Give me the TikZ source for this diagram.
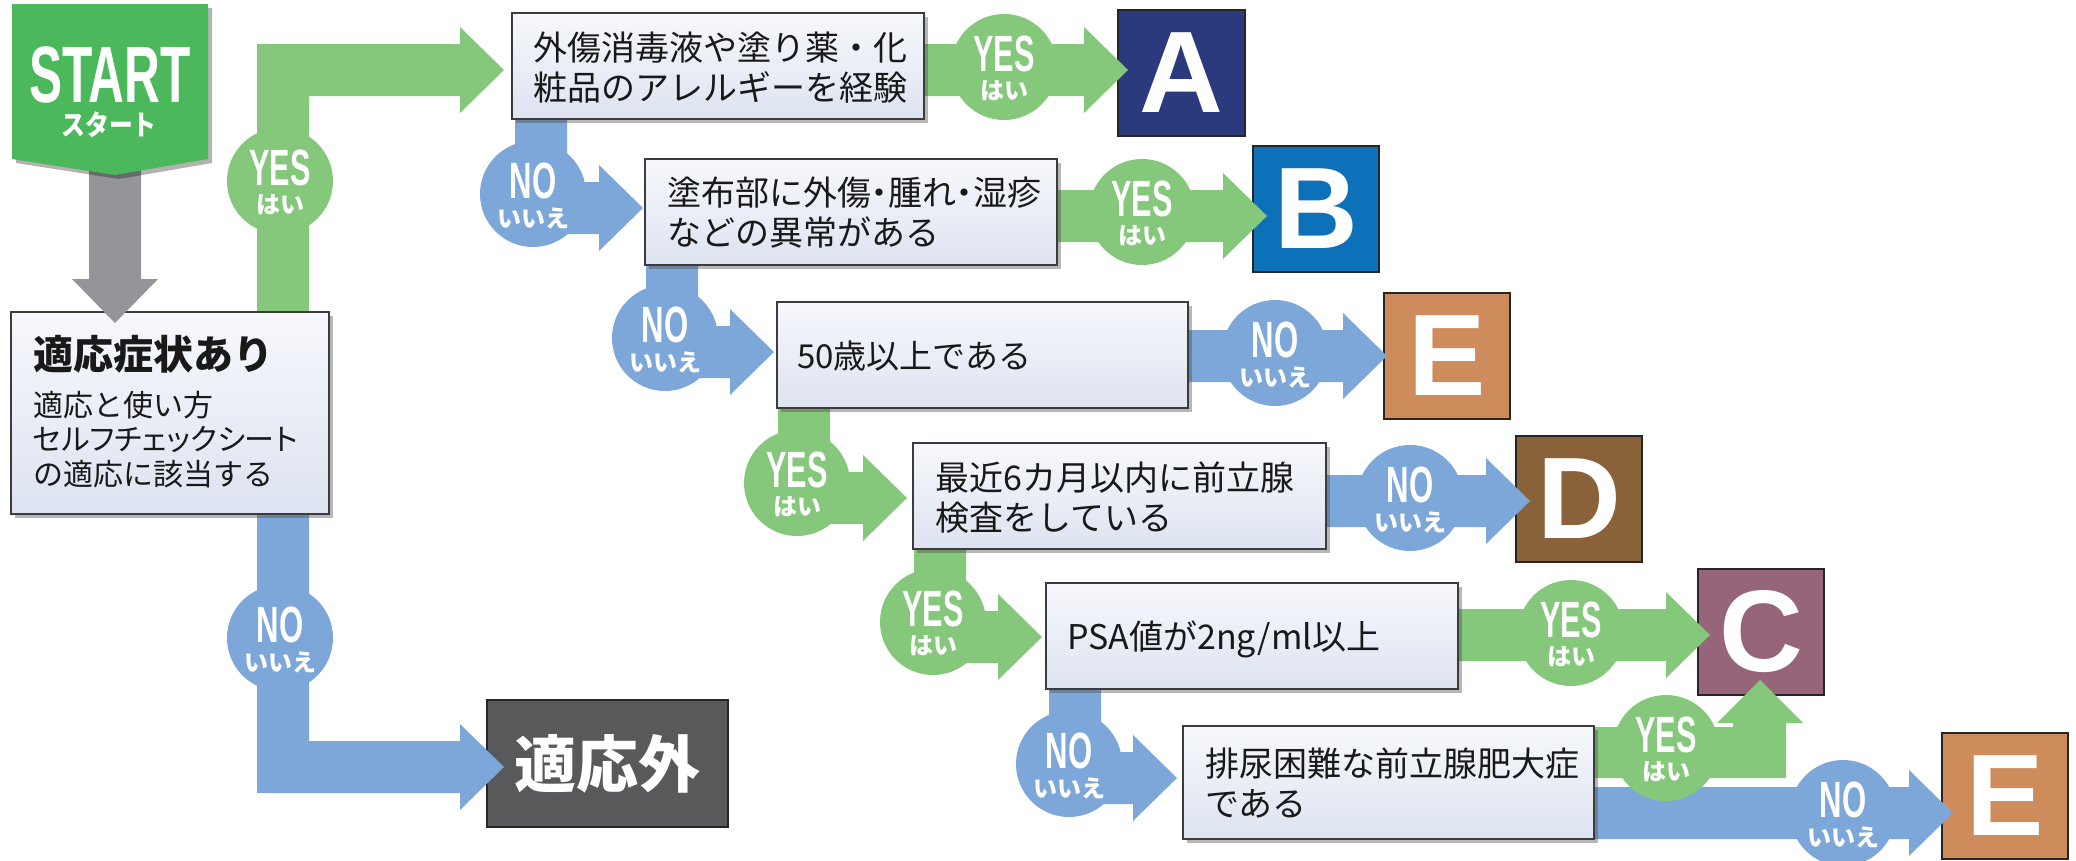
\documentclass[tikz,border=0pt]{standalone}
\usepackage{fontspec}
\usepackage{graphicx}
\setmainfont{Liberation Sans}
\newfontfamily\jp{Noto Sans CJK JP}
\newfontfamily\jpp{Noto Sans CJK JP}[RawFeature=+palt]
\usetikzlibrary{calc,shadows}
\pgfdeclarelayer{bgwhite}
\pgfdeclarelayer{back}
\pgfdeclarelayer{mid}
\pgfdeclarelayer{front}
\pgfsetlayers{bgwhite,back,mid,main,front}

\definecolor{yesgreen}{HTML}{85C77B}
\definecolor{noblue}{HTML}{7DA7D8}
\definecolor{startgreen}{HTML}{4BB85B}
\definecolor{grayA}{HTML}{939598}
\definecolor{Acol}{HTML}{2B3A7D}
\definecolor{Bcol}{HTML}{0D71B9}
\definecolor{Ecol}{HTML}{CE8C5D}
\definecolor{Dcol}{HTML}{8A6239}
\definecolor{Ccol}{HTML}{976579}
\definecolor{ngcol}{HTML}{58595B}
\definecolor{qtop}{HTML}{F6F8FC}
\definecolor{qbot}{HTML}{DDE3F0}
\definecolor{qborder}{HTML}{3C3C3C}
\definecolor{oborder}{HTML}{262626}

% horizontal block arrow: start point (x used), tip point
\newcommand\blkH[3]{\fill[#1] let \p1=#2, \p2=#3 in
  (\x1,\y2+26pt) -- (\x2-44pt,\y2+26pt) -- (\x2-44pt,\y2+43pt) -- (\p2) --
  (\x2-44pt,\y2-43pt) -- (\x2-44pt,\y2-26pt) -- (\x1,\y2-26pt) -- cycle;}
% down then right: shaft top-left point, tip point
\newcommand\blkD[3]{\fill[#1] let \p1=#2, \p2=#3 in
  (\x1,\y1) -- (\x1+52pt,\y1) -- (\x1+52pt,\y2+26pt) -- (\x2-44pt,\y2+26pt) --
  (\x2-44pt,\y2+43pt) -- (\p2) -- (\x2-44pt,\y2-43pt) -- (\x2-44pt,\y2-26pt) --
  (\x1,\y2-26pt) -- cycle;}
% up then right: shaft bottom-left point, tip point
\newcommand\blkU[3]{\fill[#1] let \p1=#2, \p2=#3 in
  (\x1,\y1) -- (\x1,\y2+26pt) -- (\x2-44pt,\y2+26pt) -- (\x2-44pt,\y2+43pt) --
  (\p2) -- (\x2-44pt,\y2-43pt) -- (\x2-44pt,\y2-26pt) -- (\x1+52pt,\y2-26pt) --
  (\x1+52pt,\y1) -- cycle;}
% vertical down: start point (y used), tip point
\newcommand\blkV[3]{\fill[#1] let \p1=#2, \p2=#3 in
  (\x2-26pt,\y1) -- (\x2+26pt,\y1) -- (\x2+26pt,\y2+44pt) -- (\x2+43pt,\y2+44pt) --
  (\p2) -- (\x2-43pt,\y2+44pt) -- (\x2-26pt,\y2+44pt) -- cycle;}

\newcommand\yesC[2]{%
  \node[ycirc] (#1) at #2 {};
  \node[labtxt] (#1m) at ($(#1.center)+(0,4)$) {\scalebox{0.6}[1]{\fontsize{51}{51}\selectfont\bfseries YES}};
  \node[labtxt] (#1k) at ($(#1.center)+(0,32)$) {\jp\bfseries\fontsize{24}{24}\selectfont はい};}
\newcommand\noC[2]{%
  \node[ncirc] (#1) at #2 {};
  \node[labtxt] (#1m) at ($(#1.center)+(0,4)$) {\scalebox{0.61}[1]{\fontsize{51}{51}\selectfont\bfseries NO}};
  \node[labtxt] (#1k) at ($(#1.center)+(0,33)$) {\jp\bfseries\fontsize{24}{24}\selectfont いいえ};}

\begin{document}
\begin{tikzpicture}[x=1pt,y=-1pt,
  qbox/.style={draw=qborder, line width=1.5pt, top color=qtop, bottom color=qbot,
    inner sep=0pt, outer sep=0pt, anchor=north west,
    minimum width=412pt, minimum height=106pt,
    drop shadow={shadow xshift=4pt,shadow yshift=-4pt,opacity=0.4,fill=black!70}},
  qtxt/.style={anchor=base west, inner sep=0pt, text=black!90, font=\jp\fontsize{34}{34}\selectfont},
  obox/.style={draw=oborder, line width=2.5pt, inner sep=0pt, outer sep=0pt, anchor=north west,
    minimum width=126pt, minimum height=126pt, text=white,
    font=\fontsize{116}{116}\selectfont\bfseries},
  ycirc/.style={circle, fill=yesgreen, minimum size=106pt, inner sep=0pt},
  ncirc/.style={circle, fill=noblue, minimum size=106pt, inner sep=0pt},
  labtxt/.style={anchor=base, inner sep=0pt, text=white}]

\begin{pgfonlayer}{bgwhite}
\fill[white] (0,0) rectangle (2076,860);
\end{pgfonlayer}
\useasboundingbox (0,0) rectangle (2076,860);

% ---------- decision boxes (main layer) ----------
\node[qbox, minimum width=318pt, minimum height=202pt] (q0) at (11,312) {};
\node[qbox] (q1) at (512,13) {};
\node[qbox] (q2) at (645,159) {};
\node[qbox, minimum width=411pt] (q3) at (777,302) {};
\node[qbox, minimum width=413pt] (q4) at (913,443) {};
\node[qbox] (q5) at (1046,583) {};
\node[qbox, minimum width=411pt, minimum height=113pt] (q6) at (1183,726) {};

\node[qtxt, font=\jp\bfseries\fontsize{40}{40}\selectfont] (q0a) at (33,369) {適応症状あり};
\node[qtxt, font=\jp\fontsize{30}{30}\selectfont] (q0b) at (33,416) {適応と使い方};
\node[qtxt, font=\jpp\fontsize{30}{30}\selectfont] (q0c) at (33,450) {セルフチェックシート};
\node[qtxt, font=\jp\fontsize{30}{30}\selectfont] (q0d) at (33,485) {の適応に該当する};
\node[qtxt] (q1a) at (533,60) {外傷消毒液や塗り薬・化};
\node[qtxt] (q1b) at (533,100) {粧品のアレルギーを経験};
\node[qtxt] (q2a) at (667,205) {塗布部に外傷\kern-.25em・\kern-.25em腫れ\kern-.25em・\kern-.25em湿疹};
\node[qtxt] (q2b) at (667,245) {などの異常がある};
\node[qtxt, font=\jp\fontsize{33}{33}\selectfont] (q3a) at (797,368) {50歳以上である};
\node[qtxt] (q4a) at (935,490) {最近6カ月以内に前立腺};
\node[qtxt] (q4b) at (935,530) {検査をしている};
\node[qtxt] (q5a) at (1067,649) {PSA値が2ng/ml以上};
\node[qtxt] (q6a) at (1205,776) {排尿困難な前立腺肥大症};
\node[qtxt] (q6b) at (1205,816) {である};

% ---------- outcome boxes (back layer) ----------
\begin{pgfonlayer}{back}
\node[obox, fill=Acol, minimum width=127pt] (A) at (1118,10) {A};
\node[obox, fill=Bcol] (B) at (1253,146) {B};
\node[obox, fill=Ecol] (E1) at (1384,293) {E};
\node[obox, fill=Dcol] (D) at (1516,436) {D};
\node[obox, fill=Ccol] (C) at (1698,569) {C};
\node[obox, fill=Ecol] (E2) at (1942,733) {E};
\node[obox, fill=ngcol, minimum width=241pt, minimum height=127pt,
  font=\jp\bfseries\fontsize{62}{62}\selectfont] (ng) at (487,700) {適応外};
\end{pgfonlayer}

% ---------- arrow tips ----------
\coordinate (tY0) at (504,70);
\coordinate (tN0) at (504,767);
\coordinate (tA) at (1128,70);
\coordinate (t2) at (643,208);
\coordinate (tB) at (1267,216);
\coordinate (t3) at (774,352);
\coordinate (tE) at (1387,356);
\coordinate (t4) at (907,498);
\coordinate (tD) at (1530,501);
\coordinate (t5) at (1042,637);
\coordinate (tC) at (1710,635);
\coordinate (t6) at (1177,778);
\coordinate (tC2) at (1760,680);
\coordinate (tE2) at (1953,813);

% ---------- block arrows and labels (mid layer) ----------
\begin{pgfonlayer}{mid}
\blkU{yesgreen}{($(q0.north west)+(246,0)$)}{(tY0)}
\blkD{noblue}{($(q0.south west)+(246,0)$)}{(tN0)}
\blkH{yesgreen}{(q1.east)}{(tA)}
\blkD{noblue}{($(q1.south west)+(3,0)$)}{(t2)}
\blkH{yesgreen}{(q2.east)}{(tB)}
\blkD{noblue}{($(q2.south west)+(1,0)$)}{(t3)}
\blkH{noblue}{(q3.east)}{(tE)}
\blkD{yesgreen}{($(q3.south west)+(1,0)$)}{(t4)}
\blkH{noblue}{(q4.east)}{(tD)}
\blkD{yesgreen}{($(q4.south west)+(1,0)$)}{(t5)}
\blkH{yesgreen}{(q5.east)}{(tC)}
\blkD{noblue}{($(q5.south west)+(3,0)$)}{(t6)}
\fill[yesgreen] let \p1=(q6.east), \p2=(tC2) in
  (\x1,\y2-47pt) -- (\x2-27pt,\y2-47pt) -- (\x2-27pt,\y2-43pt) -- (\x2-43pt,\y2-43pt) --
  (\p2) -- (\x2+43pt,\y2-43pt) -- (\x2+26pt,\y2-43pt) -- (\x2+26pt,\y2-98pt) --
  (\x1,\y2-98pt) -- cycle;
\blkH{noblue}{(q6.east)}{(tE2)}

\yesC{c0y}{(280,181)}
\noC{c0n}{(280,638)}
\yesC{c1y}{(1004,67)}
\noC{c1n}{(533,194)}
\yesC{c2y}{(1142,212)}
\noC{c2n}{(665,338)}
\noC{c3n}{(1275,353)}
\yesC{c3y}{(797,483)}
\noC{c4n}{(1410,498)}
\yesC{c4y}{(933,622)}
\yesC{c5y}{(1571,633)}
\noC{c5n}{(1069,764)}
\yesC{c6y}{(1666,748)}
\noC{c6n}{(1843,813)}
\end{pgfonlayer}

% ---------- START (front layer) ----------
\begin{pgfonlayer}{front}
\coordinate (sBot) at (115,165);
\coordinate (gTip) at (115,323);
\blkV{grayA}{(sBot)}{(gTip)}
\fill[black, opacity=0.3] (16,8) -- (212,8) -- (212,163) -- (119,179) -- (16,163) -- cycle;
\fill[startgreen] (12,4) -- (208,4) -- (208,159) -- (115,175) -- (12,159) -- cycle;
\node[labtxt] (st1) at (110,102) {\scalebox{0.62}[1]{\fontsize{80}{80}\selectfont\bfseries START}};
\node[labtxt] (st2) at (109,135) {\scalebox{0.85}[1]{\jp\bfseries\fontsize{28}{28}\selectfont スタート}};
\end{pgfonlayer}
\end{tikzpicture}
\end{document}
